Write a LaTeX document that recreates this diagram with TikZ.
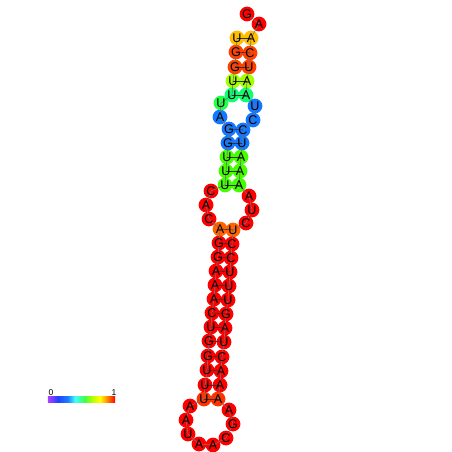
\documentclass[tikz,border=0pt]{standalone}
\usepackage{fontspec}
\setmainfont{Liberation Sans}
\definecolor{cR}{HTML}{FF0000}
\definecolor{cGold}{HTML}{FFBE00}
\definecolor{cRO}{HTML}{FF4000}
\definecolor{cYG}{HTML}{A4FF00}
\definecolor{cTeal}{HTML}{10FF70}
\definecolor{cGrn}{HTML}{24FF48}
\definecolor{cBlue}{HTML}{1478FF}
\definecolor{cGreen}{HTML}{44FF00}
\definecolor{cOr}{HTML}{FF6400}
\definecolor{cRO2}{HTML}{FF3300}
\definecolor{s0}{HTML}{B040FF}
\definecolor{s1}{HTML}{2040FF}
\definecolor{s2}{HTML}{2080FF}
\definecolor{s3}{HTML}{40FFFF}
\definecolor{s4}{HTML}{40FF40}
\definecolor{s5}{HTML}{C0FF00}
\definecolor{s6}{HTML}{FFFF00}
\definecolor{s7}{HTML}{FFA000}
\definecolor{s8}{HTML}{FF0000}
\begin{document}
\begin{tikzpicture}[x=1pt,y=-1pt,
  base/.style={circle,minimum size=14.8pt,inner sep=0pt,draw=none},
  lbl/.style={inner sep=0pt,font=\fontsize{12.6}{12.6}\selectfont},
  bb/.style={draw=black!55,line width=0.6pt},
  bp/.style={draw=black!80,line width=0.6pt},
  tick/.style={inner sep=0pt,font=\fontsize{8.5}{8.5}\selectfont}]
\useasboundingbox (0,0) rectangle (452,452);
\fill[white] (0,0) rectangle (452,452);
\foreach \i/\x/\y/\c in {
 1/247/14/cR, 2/259/24/cR, 3/251/38/cGold, 4/250/53/cRO, 5/249/67/cRO,
 6/247/81/cYG, 7/246/95/cTeal, 8/255/106/cBlue, 9/253/120/cBlue, 10/243/130/cBlue,
 11/242/143/cBlue, 12/241/157/cGreen, 13/240/171/cGreen, 14/239/185/cGreen,
 15/249/196/cR, 16/252/210/cR, 17/246/223/cR, 18/233/230/cOr,
 19/232/244/cR, 20/231/258/cR, 21/230/272/cR, 22/229/286/cR, 23/228/300/cR,
 24/226/314/cR, 25/225/328/cR, 26/224/342/cR, 27/222/357/cR, 28/221/371/cR,
 29/220/385/cR, 30/218/399/cRO2, 31/229/410/cR, 32/233/424/cR, 33/226/438/cR,
 34/213/445/cR, 35/199/444/cR, 36/188/434/cR, 37/186/420/cR, 38/190/406/cR,
 39/204/399/cRO2, 40/205/385/cR, 41/207/370/cR, 42/208/356/cR, 43/209/341/cR,
 44/211/327/cR, 45/212/313/cR, 46/214/299/cR, 47/215/285/cR, 48/216/271/cR,
 49/218/257/cR, 50/219/243/cR, 51/220/229/cOr, 52/209/219/cR, 53/206/205/cR,
 54/211/191/cR, 55/225/185/cGreen, 56/226/171/cGreen, 57/227/157/cGreen,
 58/228/143/cBlue, 59/229/129/cBlue, 60/220/117/cBlue, 61/221/103/cGrn,
 62/232/95/cTeal, 63/233/81/cYG, 64/235/67/cRO, 65/236/52/cRO, 66/237/38/cGold}
  \node[base,fill=\c] (n\i) at (\x,\y) {};
\foreach \i [evaluate=\i as \j using int(\i+1)] in {1,...,65}
  \draw[bb] (n\i.center) -- (n\j.center);
\foreach \a/\b in {3/66,4/65,5/64,6/63,7/62,10/59,11/58,12/57,13/56,14/55,
  18/51,19/50,20/49,21/48,22/47,23/46,24/45,25/44,26/43,27/42,28/41,29/40,30/39}
  \draw[bp] (n\a.center) -- (n\b.center);
\foreach \i/\l in {1/G,2/A,3/A,4/C,5/U,6/A,7/A,8/U,9/C,10/C,11/U,12/A,13/A,14/A,
  15/A,16/U,17/C,18/U,19/C,20/C,21/U,22/U,23/U,24/G,25/A,26/U,27/C,28/A,29/A,
  30/A,31/A,32/G,33/C,34/A,35/A,36/U,37/A,38/A,39/U,40/U,41/U,42/G,43/G,44/U,
  45/C,46/A,47/A,48/A,49/G,50/G,51/A,52/C,53/A,54/C,55/U,56/U,57/U,58/G,59/G,
  60/A,61/U,62/U,63/U,64/G,65/G,66/U}
  \node[lbl] (t\i) at (n\i) {\l};
% colour scale
\foreach \xa/\xb/\ca/\cb in {48/58/s0/s1, 58/68/s1/s2, 68/75/s2/s3, 75/85/s3/s4,
  85/93/s4/s5, 93/100/s5/s6, 100/106/s6/s7, 106/115/s7/s8}
  \shade[left color=\ca,right color=\cb,draw=none] (\xa-0.1,396) rectangle (\xb+0.1,402.5);
\node[tick] (z0) at (51,393) {0};
\node[tick] (z1) at (114,393) {1};
\end{tikzpicture}
\end{document}
